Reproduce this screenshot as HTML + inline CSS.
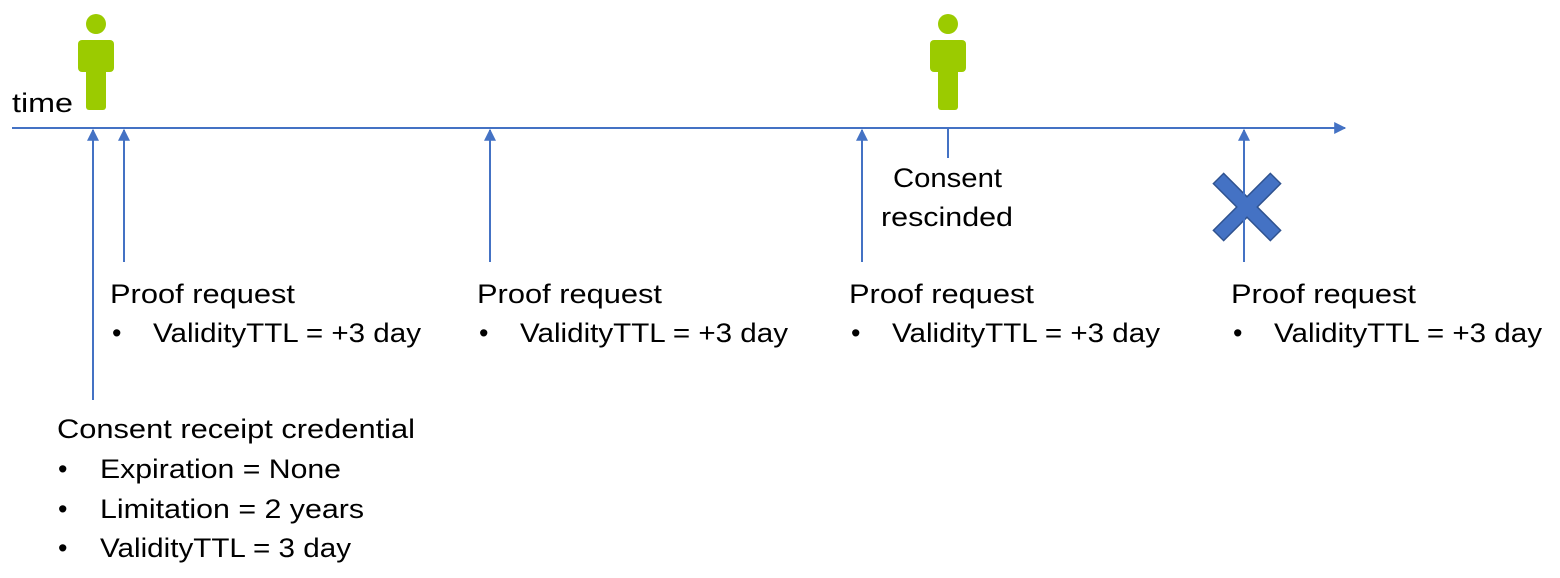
<!DOCTYPE html>
<html><head><meta charset="utf-8"><style>
html,body{margin:0;padding:0;background:#fff;width:1560px;height:578px;overflow:hidden}
text{font-family:"Liberation Sans",sans-serif;font-size:27px;fill:#000}
</style></head><body>
<svg width="1560" height="578" viewBox="0 0 1560 578" xmlns="http://www.w3.org/2000/svg">
<defs>
<marker id="a" viewBox="0 0 10 10" refX="9" refY="5" markerWidth="6.5" markerHeight="6" orient="auto"><path d="M0,0L10,5L0,10z" fill="#4472C4"/></marker>
</defs>
<g stroke="#4472C4" stroke-width="2" fill="none">
<line x1="12" y1="128" x2="1345" y2="128" marker-end="url(#a)"/>
<line x1="93" y1="400" x2="93" y2="130" marker-end="url(#a)"/>
<line x1="124" y1="262" x2="124" y2="130" marker-end="url(#a)"/>
<line x1="490" y1="262" x2="490" y2="130" marker-end="url(#a)"/>
<line x1="862" y1="262" x2="862" y2="130" marker-end="url(#a)"/>
<line x1="948" y1="128" x2="948" y2="158"/>
</g>
<g stroke="#2F528F" stroke-width="16" stroke-linecap="butt">
<line x1="1218" y1="178" x2="1276" y2="236"/><line x1="1276" y1="178" x2="1218" y2="236"/>
</g>
<g stroke="#4472C4" stroke-width="13">
<line x1="1219" y1="179" x2="1275" y2="235"/><line x1="1275" y1="179" x2="1219" y2="235"/>
</g>
<line x1="1244" y1="262" x2="1244" y2="130" stroke="#4472C4" stroke-width="2" marker-end="url(#a)"/>
<g fill="#9BCB00">
<circle cx="96" cy="24" r="10"/>
<rect x="78" y="40" width="36" height="32" rx="4"/>
<rect x="86" y="60" width="20" height="50" rx="3"/>
<circle cx="948" cy="24" r="10"/>
<rect x="930" y="40" width="36" height="32" rx="4"/>
<rect x="938" y="60" width="20" height="50" rx="3"/>
</g>
<text x="12" y="112" textLength="61" lengthAdjust="spacingAndGlyphs">time</text>
<text x="893" y="187" textLength="109" lengthAdjust="spacingAndGlyphs">Consent</text>
<text x="881" y="226" textLength="132" lengthAdjust="spacingAndGlyphs">rescinded</text>
<g>
<text x="110" y="303" textLength="185" lengthAdjust="spacingAndGlyphs">Proof request</text>
<text x="112" y="342">•</text>
<text x="153" y="342" textLength="268" lengthAdjust="spacingAndGlyphs">ValidityTTL = +3 day</text>
</g>
<g transform="translate(367,0)">
<text x="110" y="303" textLength="185" lengthAdjust="spacingAndGlyphs">Proof request</text>
<text x="112" y="342">•</text>
<text x="153" y="342" textLength="268" lengthAdjust="spacingAndGlyphs">ValidityTTL = +3 day</text>
</g>
<g transform="translate(739,0)">
<text x="110" y="303" textLength="185" lengthAdjust="spacingAndGlyphs">Proof request</text>
<text x="112" y="342">•</text>
<text x="153" y="342" textLength="268" lengthAdjust="spacingAndGlyphs">ValidityTTL = +3 day</text>
</g>
<g transform="translate(1121,0)">
<text x="110" y="303" textLength="185" lengthAdjust="spacingAndGlyphs">Proof request</text>
<text x="112" y="342">•</text>
<text x="153" y="342" textLength="268" lengthAdjust="spacingAndGlyphs">ValidityTTL = +3 day</text>
</g>
<text x="57" y="438" textLength="358" lengthAdjust="spacingAndGlyphs">Consent receipt credential</text>
<text x="58" y="478">•</text>
<text x="100" y="478" textLength="241" lengthAdjust="spacingAndGlyphs">Expiration = None</text>
<text x="58" y="518">•</text>
<text x="100" y="518" textLength="264" lengthAdjust="spacingAndGlyphs">Limitation = 2 years</text>
<text x="58" y="557">•</text>
<text x="100" y="557" textLength="251" lengthAdjust="spacingAndGlyphs">ValidityTTL = 3 day</text>
</svg>
</body></html>
